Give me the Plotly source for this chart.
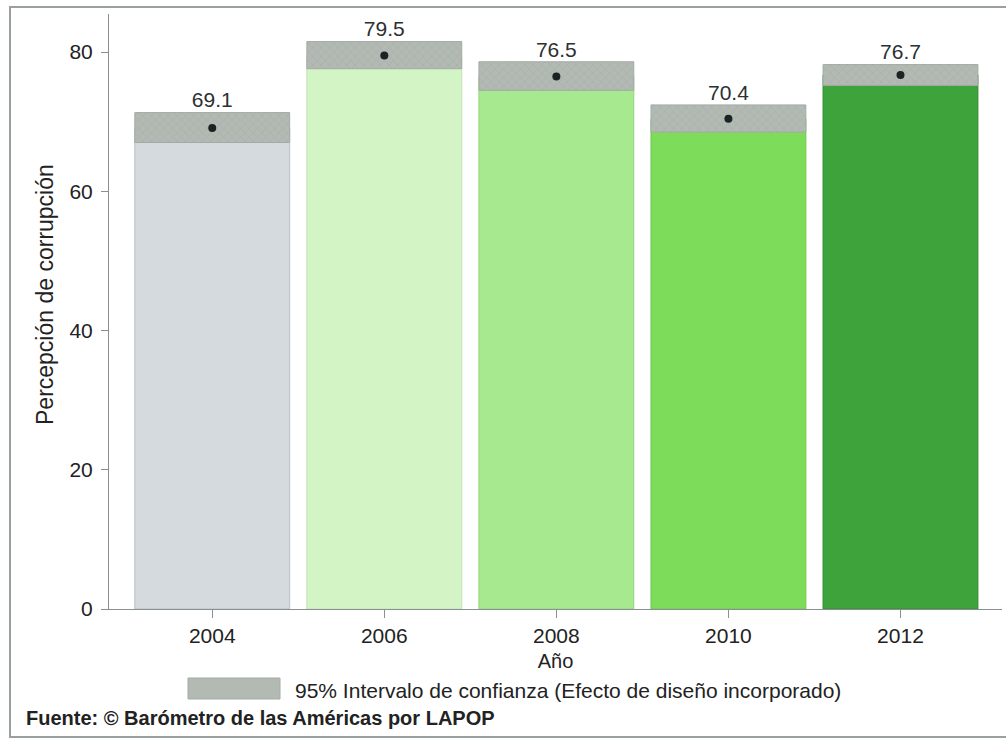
import plotly.graph_objects as go

years = ["2004", "2006", "2008", "2010", "2012"]
means = [69.1, 79.5, 76.5, 70.4, 76.7]
ci_low = [67.0, 77.6, 74.5, 68.5, 75.2]
ci_high = [71.3, 81.5, 78.6, 72.4, 78.2]
bar_colors = ["#d4dadd", "#d3f5c6", "#a6e98e", "#7ddc5a", "#3ea33a"]
bar_edges = ["#b8bfc2", "#bfe3b0", "#92d67a", "#6cc74c", "#2f8a2c"]
y_ticks = [0, 20, 40, 60, 80]

x = list(range(len(years)))
ci_height = [h - l for h, l in zip(ci_high, ci_low)]
labels = [f"{m:.1f}" for m in means]

W, H = 1006, 742
L, R, T, B = 109, 4, 14, 133
pw, ph = W - L - R, H - T - B

def px(xp):
    return (xp - L) / pw

def py(yp):
    return (H - B - yp) / ph

FONT = "Liberation Sans, Arial, sans-serif"
TXT = "#222222"

fig = go.Figure()
fig.add_trace(go.Bar(
    x=x, y=means, width=0.9,
    marker=dict(color=bar_colors, line=dict(color=bar_edges, width=1)),
    showlegend=False, hoverinfo="skip"))
fig.add_trace(go.Bar(
    x=x, y=ci_height, base=ci_low, width=0.9,
    marker=dict(color="#b3b9b3",
                line=dict(color="#a4aaa4", width=1),
                pattern=dict(shape="x", fgcolor="#a2a8a2", size=6, solidity=0.25)),
    showlegend=False, hoverinfo="skip"))
fig.add_trace(go.Scatter(
    x=x, y=means, mode="markers",
    marker=dict(color="#1b2424", size=8),
    showlegend=False, hoverinfo="skip"))
fig.add_trace(go.Scatter(
    x=x, y=ci_high, mode="text", text=labels, textposition="top center",
    textfont=dict(size=21, color="#2b3033", family=FONT),
    cliponaxis=False, showlegend=False, hoverinfo="skip"))

fig.update_layout(
    width=W, height=H,
    margin=dict(l=L, r=R, t=T, b=B, pad=0),
    plot_bgcolor="white", paper_bgcolor="white",
    barmode="overlay",
    font=dict(family=FONT, size=20, color=TXT),
    xaxis=dict(
        range=[-0.6, 4.59], tickmode="array", tickvals=x, ticktext=years,
        showgrid=False, zeroline=False, showline=True, linecolor="#8a8f93", linewidth=1,
        ticks="outside", ticklen=8, tickcolor="#8a8f93",
        tickfont=dict(size=21, color=TXT),
        title=dict(text="Año", font=dict(size=20, color=TXT), standoff=7)),
    yaxis=dict(
        range=[0, 85.46], tickmode="array", tickvals=y_ticks,
        showgrid=False, zeroline=False, showline=True, linecolor="#8a8f93", linewidth=1,
        ticks="outside", ticklen=7, tickcolor="#8a8f93", ticklabelstandoff=4,
        tickfont=dict(size=21, color=TXT)),
    shapes=[
        dict(type="rect", xref="paper", yref="paper",
             x0=px(10), x1=px(1012), y0=py(737), y1=py(7),
             line=dict(color="#9a9fa2", width=2), fillcolor="rgba(0,0,0,0)", layer="below"),
        dict(type="rect", xref="paper", yref="paper",
             x0=px(188), x1=px(280), y0=py(699), y1=py(678),
             line=dict(color="#a4aaa4", width=1), fillcolor="#b3b9b3"),
    ],
    annotations=[
        dict(xref="paper", yref="paper", x=px(45), y=py(295), xanchor="center", yanchor="middle",
             text="Percepción de corrupción", textangle=-90, showarrow=False,
             font=dict(size=23, color=TXT)),
        dict(xref="paper", yref="paper", x=px(293), y=py(690), xanchor="left", yanchor="middle",
             text="95% Intervalo de confianza (Efecto de diseño incorporado)", showarrow=False,
             font=dict(size=21, color=TXT)),
        dict(xref="paper", yref="paper", x=px(24), y=py(718), xanchor="left", yanchor="middle",
             text="<b>Fuente: © Barómetro de las Américas por LAPOP</b>", showarrow=False,
             font=dict(size=20, color=TXT)),
    ],
)

fig.write_html("out.html", config={"displayModeBar": False},
               post_script="document.body.style.margin='0';document.body.style.padding='0';")
